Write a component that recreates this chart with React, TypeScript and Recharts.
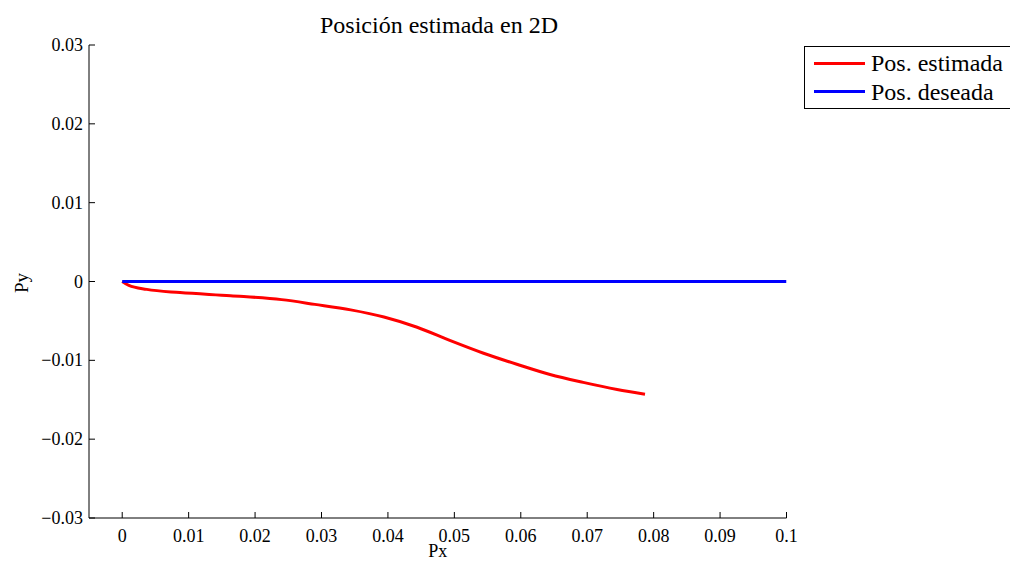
import React from "react";
import { LineChart, Line, XAxis, YAxis } from "recharts";

// estimated trajectory
const estX = [0, 0.001, 0.0037, 0.0087, 0.0163, 0.024, 0.029, 0.0344, 0.0394, 0.0444, 0.0494, 0.0544, 0.0594, 0.0644, 0.0694, 0.0745, 0.0787];
const estY = [0, -0.0005, -0.001, -0.0014, -0.0018, -0.0023, -0.0029, -0.0036, -0.0045, -0.0058, -0.0075, -0.0091, -0.0105, -0.0118, -0.0128, -0.0137, -0.0143];

// desired trajectory
const desX = [0, 0.1];
const desY = [0, 0];

const xTicks = [0, 0.01, 0.02, 0.03, 0.04, 0.05, 0.06, 0.07, 0.08, 0.09, 0.1];
const yTicks = [-0.03, -0.02, -0.01, 0, 0.01, 0.02, 0.03];

const seriesNames = ["Pos. estimada", "Pos. deseada"];
const seriesColors = ["#ff0000", "#0000ff"];

const estimated = estX.map((x, i) => ({ x, y: estY[i] }));
const desired = desX.map((x, i) => ({ x, y: desY[i] }));

const FONT = '"Liberation Serif", "Times New Roman", Times, serif';

const fmt = (v: number) => String(v).replace("-", "\u2212");

const XTick = (props: any) => {
  const { x, y, payload } = props;
  return (
    <g>
      <line x1={x} y1={y} x2={x} y2={y - 6} stroke="#000" />
      <text x={x} y={y + 24} textAnchor="middle" style={{ fontFamily: FONT }} fontSize={18} fill="#000">
        {fmt(payload.value)}
      </text>
    </g>
  );
};

const YTick = (props: any) => {
  const { x, y, payload } = props;
  return (
    <g>
      <line x1={x} y1={y} x2={x + 6} y2={y} stroke="#000" />
      <text x={x - 6} y={y + 6} textAnchor="end" style={{ fontFamily: FONT }} fontSize={18} fill="#000">
        {fmt(payload.value)}
      </text>
    </g>
  );
};

export default function App() {
  return (
    <div
      style={{
        position: "absolute",
        left: 0,
        top: 0,
        width: 1010,
        height: 565,
        background: "#fff",
        overflow: "hidden",
        fontFamily: FONT,
      }}
    >
      <div
        style={{
          position: "absolute",
          left: 0,
          top: 13,
          width: 878,
          textAlign: "center",
          fontSize: 24,
          lineHeight: "24px",
        }}
      >
        Posición estimada en 2D
      </div>
      <div
        style={{
          position: "absolute",
          left: 2,
          top: 272.5,
          width: 40,
          height: 20,
          lineHeight: "20px",
          textAlign: "center",
          fontSize: 19,
          transform: "rotate(-90deg)",
        }}
      >
        Py
      </div>
      <div
        style={{
          position: "absolute",
          left: 804,
          top: 46,
          width: 212,
          height: 63,
          border: "1px solid #000",
          boxSizing: "border-box",
          background: "#fff",
          fontSize: 24,
          paddingTop: 2,
        }}
      >
        {seriesNames.map((n, i) => (
          <div key={n} style={{ display: "flex", alignItems: "center", height: 28.5, lineHeight: "28.5px" }}>
            <span
              style={{
                display: "inline-block",
                width: 51,
                height: 3,
                background: seriesColors[i],
                marginLeft: 9,
                marginRight: 6,
              }}
            />
            <span>{n}</span>
          </div>
        ))}
      </div>
      <LineChart width={1010} height={565} margin={{ top: 45, right: 223.5, bottom: 0, left: 29 }}>
        <XAxis
          type="number"
          dataKey="x"
          domain={[-0.005, 0.1]}
          ticks={xTicks}
          interval={0}
          allowDataOverflow
          height={47}
          tickSize={0}
          tickMargin={0}
          tickLine={false}
          axisLine={{ stroke: "#000" }}
          tick={<XTick />}
          label={{ value: "Px", position: "insideBottom", offset: 8, style: { fontFamily: FONT }, fontSize: 18, fill: "#000" }}
        />
        <YAxis
          type="number"
          dataKey="y"
          domain={[-0.03, 0.03]}
          ticks={yTicks}
          interval={0}
          allowDataOverflow
          width={60}
          tickSize={0}
          tickMargin={0}
          tickLine={false}
          axisLine={{ stroke: "#000" }}
          tick={<YTick />}
        />
        <Line
          data={estimated}
          dataKey="y"
          name={seriesNames[0]}
          type="monotone"
          stroke={seriesColors[0]}
          strokeWidth={3}
          dot={false}
          isAnimationActive={false}
        />
        <Line
          data={desired}
          dataKey="y"
          name={seriesNames[1]}
          type="linear"
          stroke={seriesColors[1]}
          strokeWidth={3}
          dot={false}
          isAnimationActive={false}
        />
      </LineChart>
    </div>
  );
}
